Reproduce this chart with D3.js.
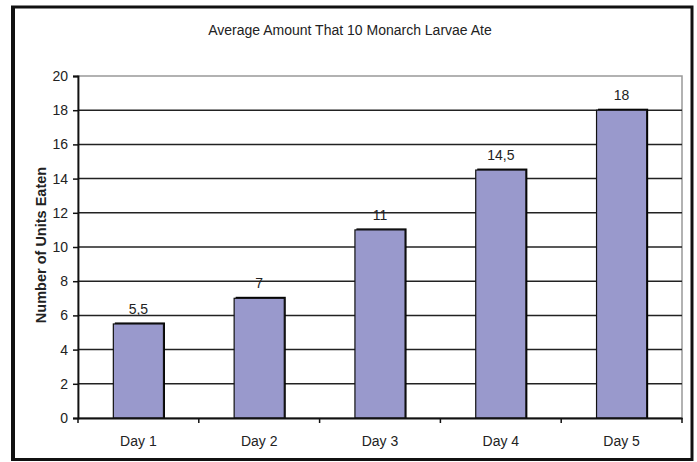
<!DOCTYPE html>
<html><head><meta charset="utf-8">
<script src="https://cdn.jsdelivr.net/npm/d3@7/dist/d3.min.js"></script>
<style>body{margin:0;background:#fff}svg{display:block}text{font-family:"Liberation Sans",Arial,sans-serif;fill:#222}</style>
</head><body><svg id="c" width="697" height="462"></svg>
<script>
const categories = ["Day 1","Day 2","Day 3","Day 4","Day 5"];
const values = [5.5, 7, 11, 14.5, 18];
const valueLabels = ["5,5","7","11","14,5","18"];
const yTicks = [0,2,4,6,8,10,12,14,16,18,20];

const FS = 14;
const svg = d3.select("#c");
const m = {l:78, r:682, t:76, b:418};
// outer frame
svg.append("rect").attr("x",12.5).attr("y",7).attr("width",679.5).attr("height",452.5)
  .attr("fill","none").attr("stroke","#111").attr("stroke-width",3);
svg.append("line").attr("x1",14.5).attr("x2",14.5).attr("y1",7).attr("y2",459).attr("stroke","#111").attr("stroke-width",1);

const x = d3.scaleBand().domain(categories).range([m.l,m.r]).paddingInner(0.585).paddingOuter(0.2925);
const y = d3.scaleLinear().domain([0,20]).range([m.b,m.t]);

// plot frame (gray top/right)
svg.append("rect").attr("x",m.l).attr("y",m.t).attr("width",m.r-m.l).attr("height",m.b-m.t)
  .attr("fill","none").attr("stroke","#999").attr("stroke-width",1.5);

// gridlines
svg.append("g").selectAll("line").data(yTicks.filter(d=>d>0 && d<20)).join("line")
  .attr("x1",m.l).attr("x2",m.r).attr("y1",d=>y(d)).attr("y2",d=>y(d))
  .attr("stroke","#222").attr("stroke-width",1.5);

// bars with shadow
const bars = svg.append("g");
bars.selectAll("rect.sh").data(values).join("rect")
  .attr("x",(d,i)=>x(categories[i])+1.5).attr("y",d=>y(d)-1.5)
  .attr("width",x.bandwidth()).attr("height",d=>m.b-y(d)+1.5).attr("fill","#000");
bars.selectAll("rect.b").data(values).join("rect")
  .attr("x",(d,i)=>x(categories[i])).attr("y",d=>y(d))
  .attr("width",x.bandwidth()).attr("height",d=>m.b-y(d))
  .attr("fill","#9999cc").attr("stroke","#111").attr("stroke-width",1.2);

// value labels
svg.append("g").selectAll("text").data(values).join("text")
  .attr("x",(d,i)=>x(categories[i])+x.bandwidth()/2).attr("y",d=>y(d)-10)
  .attr("text-anchor","middle").attr("font-size",FS).text((d,i)=>valueLabels[i]);

// y axis
const ya = svg.append("g").attr("transform",`translate(${m.l},0)`)
  .call(d3.axisLeft(y).tickValues(yTicks).tickSize(5).tickPadding(5));
ya.select(".domain").attr("stroke","#111").attr("stroke-width",1.8);
ya.selectAll(".tick line").attr("stroke","#111").attr("stroke-width",1.5);
ya.selectAll(".tick text").attr("font-size",FS).attr("font-family","Liberation Sans, Arial, sans-serif").attr("fill","#222");

// x axis
const xa = svg.append("g").attr("transform",`translate(0,${m.b})`)
  .call(d3.axisBottom(x).tickSize(0).tickPadding(18));
xa.select(".domain").attr("stroke","#111").attr("stroke-width",1.8);
xa.selectAll(".tick text").attr("font-size",FS).attr("font-family","Liberation Sans, Arial, sans-serif").attr("fill","#222");
// category boundary ticks
svg.append("g").selectAll("line").data(d3.range(categories.length+1)).join("line")
  .attr("x1",i=>m.l+i*(m.r-m.l)/categories.length).attr("x2",i=>m.l+i*(m.r-m.l)/categories.length)
  .attr("y1",m.b).attr("y2",m.b+5).attr("stroke","#111").attr("stroke-width",1.5);

// title
svg.append("text").attr("x",350).attr("y",35).attr("text-anchor","middle").attr("font-size",FS)
  .text("Average Amount That 10 Monarch Larvae Ate");
// y label
svg.append("text").attr("transform","translate(46,245) rotate(-90)").attr("text-anchor","middle")
  .attr("font-size",14.5).attr("font-weight","bold").text("Number of Units Eaten");
</script></body></html>
